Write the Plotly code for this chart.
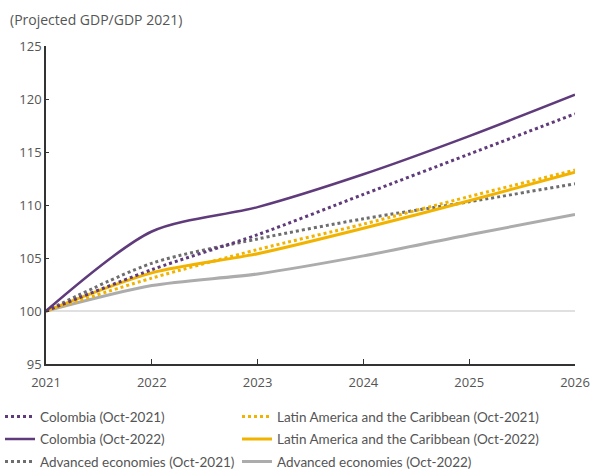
import plotly.graph_objects as go

years = [2021, 2022, 2023, 2024, 2025, 2026]

colombia_oct21 = [100, 103.9, 107.2, 111.0, 114.8, 118.6]
colombia_oct22 = [100, 107.5, 109.8, 112.9, 116.5, 120.4]
lac_oct21 = [100, 103.1, 105.8, 108.2, 110.8, 113.3]
lac_oct22 = [100, 103.6, 105.4, 107.8, 110.4, 113.1]
adv_oct21 = [100, 104.5, 106.8, 108.7, 110.3, 112.0]
adv_oct22 = [100, 102.4, 103.5, 105.2, 107.2, 109.1]

PURPLE = "#5f3b7b"
YELLOW = "#f2b300"
DARK_GRAY = "#6e6e6e"
LIGHT_GRAY = "#acacac"

# name, values, colour, dash, width, legend column, rank in column
series = [
    ("Colombia (Oct-2021)", colombia_oct21, PURPLE, "3px,3px", 3, "legend", 1),
    ("Colombia (Oct-2022)", colombia_oct22, PURPLE, "solid", 2.5, "legend", 2),
    ("Advanced economies (Oct-2021)", adv_oct21, DARK_GRAY, "3px,3px", 3, "legend", 3),
    ("Latin America and the Caribbean (Oct-2021)", lac_oct21, YELLOW, "3px,3px", 3, "legend2", 1),
    ("Latin America and the Caribbean (Oct-2022)", lac_oct22, YELLOW, "solid", 3, "legend2", 2),
    ("Advanced economies (Oct-2022)", adv_oct22, LIGHT_GRAY, "solid", 3, "legend2", 3),
]

fig = go.Figure()

# baseline at 100
fig.add_shape(type="line", xref="x", yref="y", x0=years[0], x1=years[-1], y0=100, y1=100,
              line=dict(color="#d6d6d6", width=1.5), layer="below")

draw_order = [5, 2, 3, 4, 0, 1]
for i in draw_order:
    name, vals, color, dash, width, leg, rank = series[i]
    fig.add_trace(go.Scatter(
        x=years, y=vals, name=name, mode="lines",
        line=dict(color=color, dash=dash, width=width, shape="spline", smoothing=0.8),
        legend=leg, legendrank=rank, legendgroup=name,
    ))

legend_common = dict(
    orientation="v", xref="container", yref="container", yanchor="top", xanchor="left",
    itemwidth=30, tracegroupgap=2, bgcolor="rgba(0,0,0,0)",
    font=dict(family="Lato, Open Sans, sans-serif", size=13.5, color="#555555"),
    traceorder="grouped",
)

fig.update_layout(
    width=597, height=472,
    margin=dict(l=46, r=22, t=46, b=108, autoexpand=False),
    plot_bgcolor="white", paper_bgcolor="white",
    font=dict(family="Open Sans, Noto Sans, sans-serif", size=13, color="#555555"),
    showlegend=True,
    legend=dict(x=0.0, y=0.15, **legend_common),
    legend2=dict(x=0.397, y=0.15, **legend_common),
    annotations=[dict(
        text="(Projected GDP/GDP 2021)", xref="paper", yref="paper",
        x=-0.072, y=1.0, yshift=38, xanchor="left", yanchor="top",
        showarrow=False, font=dict(size=14, color="#555555"),
    )],
)

fig.update_xaxes(
    range=[2021, 2026], tickmode="array", tickvals=years, ticktext=[str(y) for y in years],
    showgrid=False, zeroline=False, showline=True, linecolor="#333333", linewidth=1.5,
    ticks="inside", ticklen=5, tickcolor="#333333", fixedrange=True,
    ticklabelstandoff=6,
)
fig.update_yaxes(
    range=[95, 125], tickmode="array", tickvals=[95, 100, 105, 110, 115, 120, 125],
    showgrid=False, zeroline=False, showline=True, linecolor="#333333", linewidth=1.5,
    ticks="inside", ticklen=3, tickcolor="#333333", fixedrange=True,
)

fig.write_html("out.html")
